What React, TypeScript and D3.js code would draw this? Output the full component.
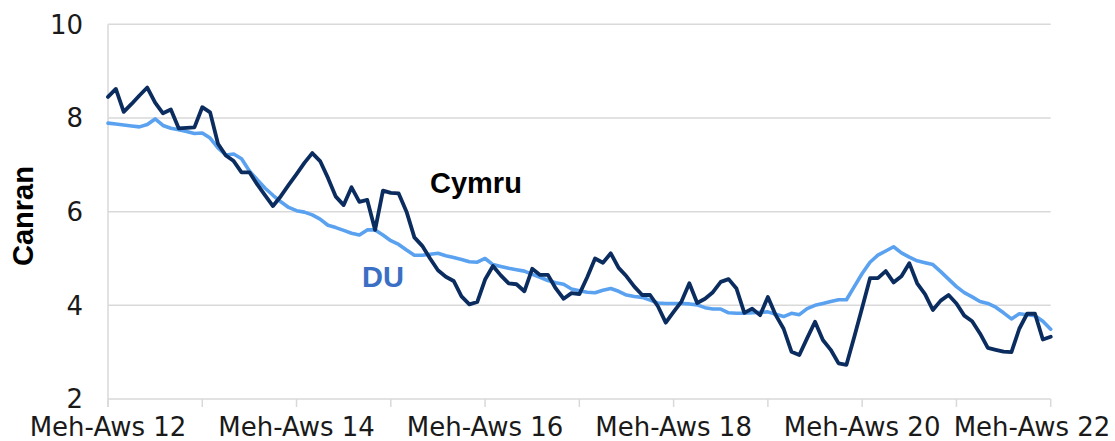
import { line as d3Line, scaleLinear } from "d3"

// Cyfradd diweithdra, cyfartaledd treigl tri mis, Meh-Aws 2012 i Meh-Aws 2022
const cymru = [
  8.45, 8.62, 8.13, 8.3, 8.48, 8.65, 8.33, 8.1, 8.18, 7.78,
  7.79, 7.8, 8.23, 8.12, 7.45, 7.2, 7.08, 6.84, 6.84, 6.58,
  6.35, 6.12, 6.33, 6.57, 6.8, 7.04, 7.25, 7.08, 6.72, 6.32,
  6.14, 6.52, 6.21, 6.25, 5.61, 6.45, 6.4, 6.39, 6.0, 5.45,
  5.27, 5.0, 4.75, 4.61, 4.52, 4.19, 4.02, 4.07, 4.55, 4.84,
  4.64, 4.47, 4.45, 4.3, 4.78, 4.65, 4.65, 4.36, 4.14, 4.26,
  4.24, 4.6, 5.0, 4.91, 5.11, 4.8, 4.62, 4.4, 4.22, 4.22,
  3.98, 3.63, 3.86, 4.08, 4.47, 4.05, 4.14, 4.28, 4.5, 4.56,
  4.36, 3.84, 3.93, 3.79, 4.18, 3.79, 3.5, 3.01, 2.94, 3.3,
  3.65, 3.26, 3.05, 2.76, 2.73, 3.33, 3.95, 4.58, 4.58, 4.73,
  4.49, 4.62, 4.9, 4.47, 4.24, 3.9, 4.1, 4.22, 4.04, 3.78,
  3.66, 3.4, 3.09, 3.05, 3.01, 3.0, 3.5, 3.82, 3.82, 3.27,
  3.33,
]

const du = [
  7.89, 7.87, 7.85, 7.83, 7.81, 7.86, 7.98, 7.84, 7.78, 7.75,
  7.71, 7.67, 7.68, 7.57, 7.36, 7.21, 7.23, 7.13, 6.87, 6.68,
  6.5, 6.35, 6.21, 6.09, 6.02, 5.99, 5.93, 5.84, 5.71, 5.66,
  5.6, 5.54, 5.5, 5.61, 5.61, 5.5, 5.38, 5.3, 5.18, 5.07,
  5.07, 5.09, 5.11, 5.06, 5.02, 4.98, 4.93, 4.92, 5.0, 4.87,
  4.83, 4.79, 4.76, 4.73, 4.66, 4.6, 4.53, 4.48, 4.45, 4.35,
  4.31, 4.28, 4.27, 4.32, 4.36, 4.3, 4.22, 4.19, 4.17, 4.11,
  4.05, 4.04, 4.04, 4.04, 4.03, 4.01, 3.95, 3.92, 3.92, 3.84,
  3.83, 3.83, 3.84, 3.85, 3.86, 3.81, 3.76, 3.83, 3.8, 3.93,
  4.0, 4.04, 4.08, 4.12, 4.12, 4.4, 4.68, 4.92, 5.07, 5.16,
  5.25, 5.12, 5.03, 4.95, 4.91, 4.87, 4.72, 4.56, 4.4, 4.27,
  4.18, 4.08, 4.04, 3.96, 3.84, 3.71, 3.82, 3.8, 3.78, 3.66,
  3.49,
]

const yTicks = [2, 4, 6, 8, 10]
const yearTicks = [0, 12, 24, 36, 48, 60, 72, 84, 96, 108, 120]
const xLabels = ["Meh-Aws 12", "Meh-Aws 14", "Meh-Aws 16", "Meh-Aws 18", "Meh-Aws 20", "Meh-Aws 22"]

const width = 1115
const height = 441
const left = 108
const right = 1050.7
const top = 24.3
const bottom = 399

const gridColor = "#d9d9d9"
const cymruColor = "#0b2c5f"
const duColor = "#5aa2f0"
const tickFont = "DejaVu Sans, Verdana, sans-serif"
const labelFont = "Liberation Sans, Arial, sans-serif"

export default function App() {
  const xScale = scaleLinear().domain([0, cymru.length - 1]).range([left, right])
  const yScale = scaleLinear().domain([2, 10]).range([bottom, top])

  const linePath = d3Line<number>()
    .x((_, i) => xScale(i))
    .y((v) => yScale(v))

  return (
    <div style={{ position: "absolute", left: 0, top: 0 }}>
      <svg width={width} height={height} viewBox={`0 0 ${width} ${height}`} style={{ display: "block", background: "#fff" }}>
        {yTicks.map((tick) => (
          <g key={tick}>
            <line x1={left} x2={right} y1={yScale(tick)} y2={yScale(tick)} stroke={gridColor} strokeWidth={1.5} />
            <text x={83} y={yScale(tick)} dy="0.36em" textAnchor="end" fontFamily={tickFont} fontSize={26} fill="#1a1a1a">
              {tick}
            </text>
          </g>
        ))}

        <line x1={left} x2={left} y1={top} y2={bottom + 8} stroke={gridColor} strokeWidth={1.5} />
        {yearTicks.map((m) => (
          <line key={m} x1={xScale(m)} x2={xScale(m)} y1={bottom} y2={bottom + 8} stroke={gridColor} strokeWidth={1.5} />
        ))}

        {/* last label is pulled in so it stays inside the frame */}
        {xLabels.map((label, i) => (
          <text key={label} x={Math.min(xScale(i * 24), width - 83)} y={436} textAnchor="middle" fontFamily={tickFont} fontSize={26} fill="#1a1a1a">
            {label}
          </text>
        ))}

        <path d={linePath(du) ?? ""} fill="none" stroke={duColor} strokeWidth={3.6} strokeLinejoin="round" strokeLinecap="round" />
        <path d={linePath(cymru) ?? ""} fill="none" stroke={cymruColor} strokeWidth={3.8} strokeLinejoin="round" strokeLinecap="round" />

        <text x={430} y={193} fontFamily={labelFont} fontWeight="bold" fontSize={29} fill="#000">
          Cymru
        </text>
        <text x={362} y={287} fontFamily={labelFont} fontWeight="bold" fontSize={29} fill="#3b6fc4">
          DU
        </text>

        <text transform="translate(33,216) rotate(-90)" textAnchor="middle" fontFamily={labelFont} fontWeight="bold" fontSize={29} fill="#000">
          Canran
        </text>
      </svg>
    </div>
  )
}
